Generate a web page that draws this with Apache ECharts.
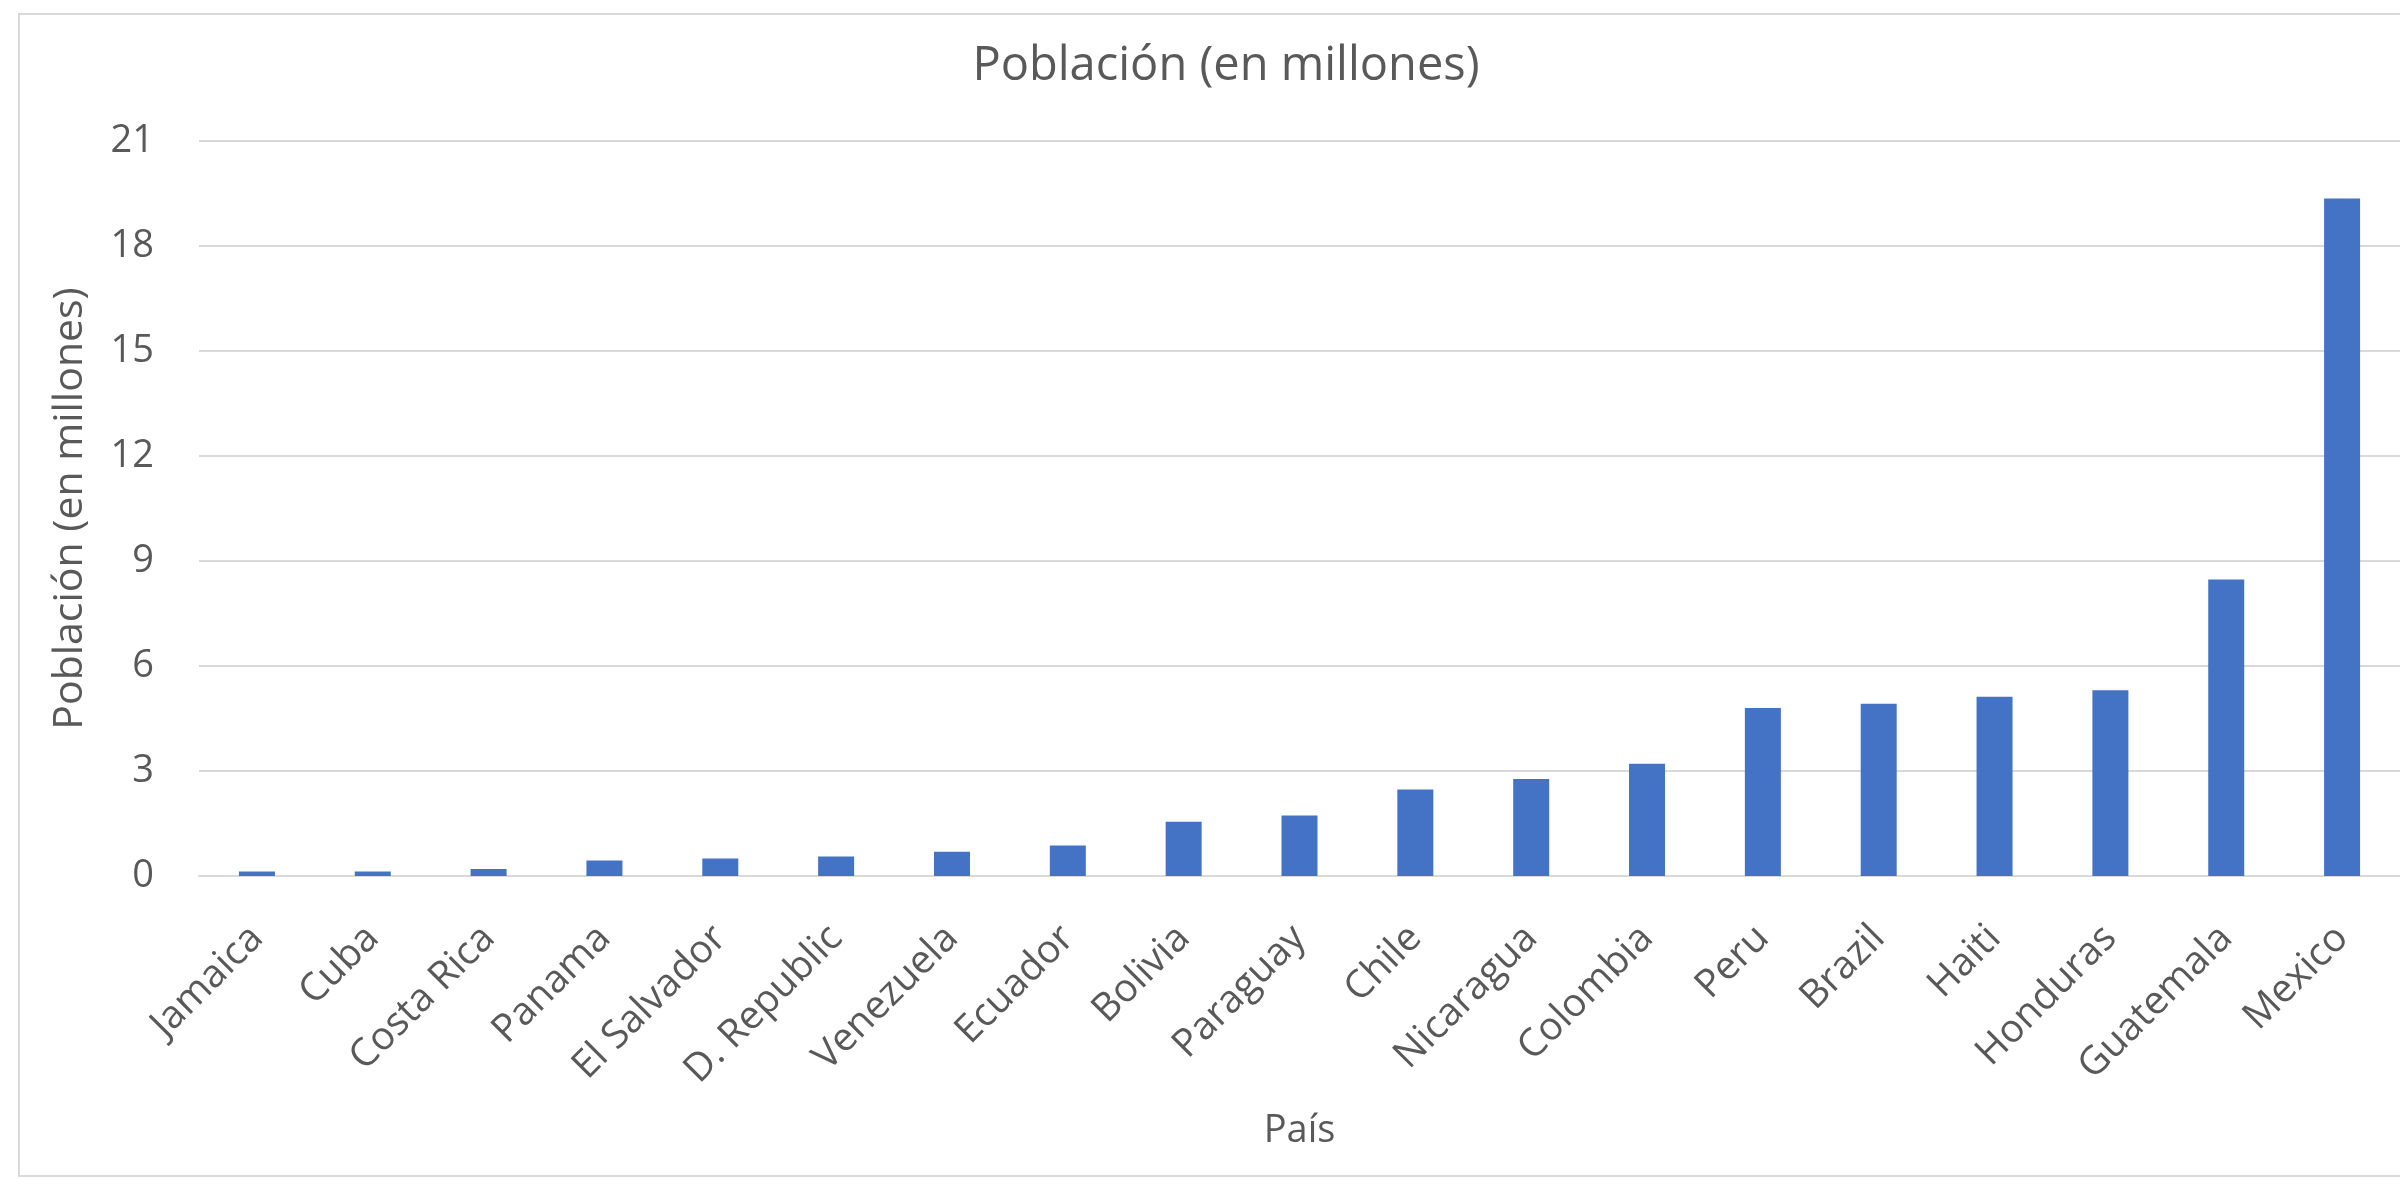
<!DOCTYPE html>
<html>
<head>
<meta charset="utf-8">
<script src="https://cdn.jsdelivr.net/npm/echarts@6/dist/echarts.min.js"></script>
<style>
  html, body { margin: 0; padding: 0; background: #ffffff; }
  #chart { width: 2400px; height: 1179px; }
</style>
</head>
<body>
<div id="chart"></div>
<script>
// Countries, ordered from smallest to largest population
const countries = ['Jamaica', 'Cuba', 'Costa Rica', 'Panama', 'El Salvador', 'D. Republic',
  'Venezuela', 'Ecuador', 'Bolivia', 'Paraguay', 'Chile', 'Nicaragua', 'Colombia',
  'Peru', 'Brazil', 'Haiti', 'Honduras', 'Guatemala', 'Mexico'];

// Population in millions
const population = [0.13, 0.13, 0.2, 0.44, 0.5, 0.56, 0.69, 0.87, 1.55, 1.73, 2.47,
  2.77, 3.21, 4.8, 4.92, 5.12, 5.31, 8.47, 19.36];

// Value axis ticks
const yTicks = [0, 3, 6, 9, 12, 15, 18, 21];

const titleText = 'Población (en millones)';
const yName = 'Población (en millones)';
const xName = 'País';

const textColor = '#595959';
const gridColor = '#d9d9d9';
const font = '"Open Sans", "Noto Sans", sans-serif';

const chart = echarts.init(document.getElementById('chart'), null, { renderer: 'canvas' });

chart.setOption({
  backgroundColor: '#ffffff',
  animation: false,
  graphic: [{
    type: 'rect',
    shape: { x: 19, y: 14, width: 2420, height: 1162 },
    style: { fill: 'none', stroke: gridColor, lineWidth: 2 },
    silent: true,
    z: -1
  }],
  title: {
    text: titleText,
    left: 1221,
    top: 38,
    textAlign: 'center',
    textStyle: { color: textColor, fontFamily: font, fontSize: 47, fontWeight: 'normal' }
  },
  grid: {
    left: 199,
    top: 141,
    width: 2202,
    height: 735,
    containLabel: false
  },
  xAxis: {
    type: 'category',
    data: countries,
    name: xName,
    nameLocation: 'middle',
    nameGap: 236,
    nameTextStyle: { color: textColor, fontFamily: font, fontSize: 38 },
    axisLine: { show: true, lineStyle: { color: gridColor, width: 2 } },
    axisTick: { show: false },
    axisLabel: {
      rotate: 45,
      interval: 0,
      margin: 56,
      color: textColor,
      fontFamily: font,
      fontSize: 39
    }
  },
  yAxis: {
    type: 'value',
    min: yTicks[0],
    max: yTicks[yTicks.length - 1],
    interval: yTicks[1] - yTicks[0],
    name: yName,
    nameLocation: 'middle',
    nameGap: 108,
    nameTextStyle: { color: textColor, fontFamily: font, fontSize: 41 },
    axisLine: { show: false },
    axisTick: { show: false },
    splitLine: { show: true, lineStyle: { color: gridColor, width: 2 } },
    axisLabel: {
      margin: 45,
      color: textColor,
      fontFamily: font,
      fontSize: 38
    }
  },
  series: [{
    type: 'bar',
    data: population,
    barWidth: 36,
    itemStyle: { color: '#4472C4' }
  }]
});
</script>
</body>
</html>
